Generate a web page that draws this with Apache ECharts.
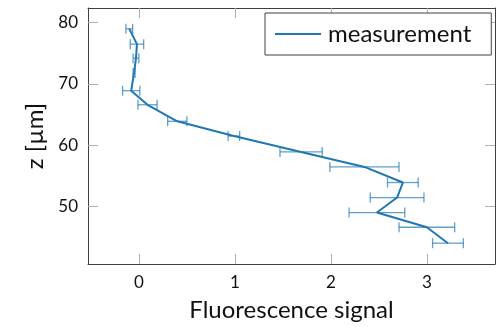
<!DOCTYPE html>
<html>
<head>
<meta charset="utf-8">
<script src="https://cdn.jsdelivr.net/npm/echarts@6/dist/echarts.min.js"></script>
<style>
html, body { margin: 0; padding: 0; background: #fff; }
#chart { width: 496px; height: 327px; }
</style>
</head>
<body>
<div id="chart"></div>
<script>
// depth (z, µm), signal and horizontal error
var zVals = [79.0, 76.5, 74.2, 71.8, 68.9, 66.6, 63.9, 61.5, 58.9, 56.45, 53.9, 51.45, 49.0, 46.6, 44.0];
var signal = [-0.10, -0.02, -0.03, -0.05, -0.08, 0.09, 0.40, 0.99, 1.69, 2.35, 2.75, 2.69, 2.48, 3.00, 3.22];
var signalErr = [0.035, 0.07, 0.03, 0.01, 0.09, 0.10, 0.10, 0.06, 0.22, 0.36, 0.16, 0.28, 0.29, 0.29, 0.16];
var xTicks = [0, 1, 2, 3];
var yTicks = [50, 60, 70, 80];

var blue = '#1f77b4';
var frame = '#404040';
var tickGrey = '#b0b0b0';
var font = 'Lato';

var lineData = [];
var errData = [];
for (var i = 0; i < zVals.length; i++) {
    lineData.push([signal[i], zVals[i]]);
    errData.push([signal[i] - signalErr[i], signal[i] + signalErr[i], zVals[i]]);
}

var chart = echarts.init(document.getElementById('chart'));

function baseX(extra) {
    return Object.assign({
        type: 'value',
        min: -0.53,
        max: 3.71,
        splitLine: { show: false },
        axisLine: { show: true, onZero: false, lineStyle: { color: frame, width: 1 } },
        axisTick: { show: true, inside: true, length: 10, customValues: xTicks, lineStyle: { color: tickGrey } }
    }, extra);
}
function baseY(extra) {
    return Object.assign({
        type: 'value',
        min: 40.6,
        max: 82.4,
        splitLine: { show: false },
        axisLine: { show: true, onZero: false, lineStyle: { color: frame, width: 1 } },
        axisTick: { show: true, inside: true, length: 10, customValues: yTicks, lineStyle: { color: tickGrey } }
    }, extra);
}

var option = {
    animation: false,
    textStyle: { fontFamily: font },
    grid: { left: 88, right: 1, top: 8, bottom: 61, containLabel: false },
    legend: {
        data: ['measurement'],
        left: 265,
        top: 13,
        orient: 'horizontal',
        padding: [9, 20, 9, 10],
        borderColor: frame,
        borderWidth: 1,
        backgroundColor: '#fff',
        icon: 'rect',
        itemWidth: 46,
        itemHeight: 2,
        textStyle: { fontFamily: font, fontSize: 24, color: '#111', padding: [0, 0, 0, 2] }
    },
    xAxis: [
        baseX({
            position: 'bottom',
            name: 'Fluorescence signal',
            nameLocation: 'middle',
            nameGap: 34,
            nameTextStyle: { fontFamily: font, fontSize: 24, color: '#111' },
            axisLabel: { customValues: xTicks, fontSize: 17, color: '#111', margin: 10 }
        }),
        baseX({ position: 'top', axisLabel: { show: false } })
    ],
    yAxis: [
        baseY({
            position: 'left',
            name: 'z [µm]',
            nameLocation: 'middle',
            nameGap: 41,
            nameTextStyle: { fontFamily: font, fontSize: 24, color: '#111' },
            axisLabel: { customValues: yTicks, fontSize: 17, color: '#111', margin: 10 }
        }),
        baseY({ position: 'right', axisLabel: { show: false } })
    ],
    series: [{
        name: 'errors',
        type: 'custom',
        xAxisIndex: 0,
        yAxisIndex: 0,
        data: errData,
        z: 1,
        renderItem: function (params, api) {
            var a = api.coord([api.value(0), api.value(2)]);
            var b = api.coord([api.value(1), api.value(2)]);
            var h = 5;
            var st = { stroke: 'rgba(31,119,180,0.7)', lineWidth: 1.3, fill: null };
            return {
                type: 'group',
                children: [
                    { type: 'line', shape: { x1: a[0], y1: a[1], x2: b[0], y2: b[1] }, style: st },
                    { type: 'line', shape: { x1: a[0], y1: a[1] - h, x2: a[0], y2: a[1] + h }, style: st },
                    { type: 'line', shape: { x1: b[0], y1: b[1] - h, x2: b[0], y2: b[1] + h }, style: st }
                ]
            };
        }
    }, {
        name: 'measurement',
        type: 'line',
        xAxisIndex: 0,
        yAxisIndex: 0,
        data: lineData,
        symbol: 'none',
        z: 2,
        lineStyle: { color: blue, width: 2 },
        itemStyle: { color: blue }
    }]
};

chart.setOption(option);
</script>
</body>
</html>
